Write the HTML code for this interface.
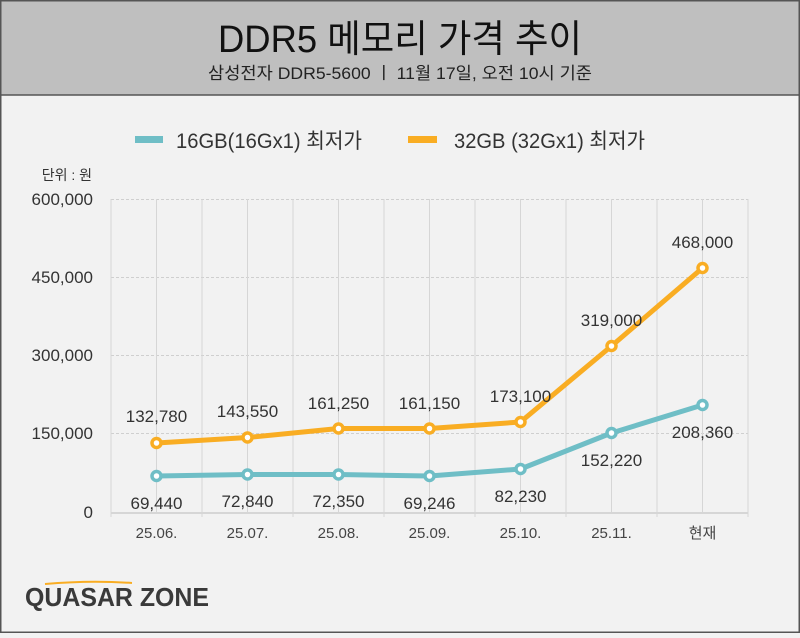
<!DOCTYPE html><html><head><meta charset="utf-8"><style>
body{margin:0;width:800px;height:633px;overflow:hidden;background:#f2f2f2;font-family:"Liberation Sans","Noto Sans CJK KR",sans-serif}
</style></head><body>
<svg width="800" height="633" xmlns="http://www.w3.org/2000/svg" font-family="Liberation Sans, Noto Sans CJK KR, sans-serif">
<rect x="0" y="0" width="800" height="633" fill="#f2f2f2"/>
<rect x="0" y="0" width="800" height="95" fill="#bfbfbf"/>
<line x1="0" y1="95" x2="800" y2="95" stroke="#555" stroke-width="1.5"/>
<rect x="0.75" y="0.75" width="798.5" height="631.5" fill="none" stroke="#555" stroke-width="1.5"/>
<text x="218" y="52" font-size="38" fill="#111" textLength="364" lengthAdjust="spacingAndGlyphs">DDR5 메모리 가격 추이</text>
<text x="208" y="79" font-size="17" fill="#222" textLength="384" lengthAdjust="spacingAndGlyphs">삼성전자 DDR5-5600 ㅣ 11월 17일, 오전 10시 기준</text>
<rect x="135" y="136" width="28" height="7" fill="#6fbec6"/>
<text x="176" y="148" font-size="21" fill="#333" textLength="186" lengthAdjust="spacingAndGlyphs">16GB(16Gx1) 최저가</text>
<rect x="408" y="136" width="29" height="7" fill="#f9ad23"/>
<text x="454" y="148" font-size="21" fill="#333" textLength="191" lengthAdjust="spacingAndGlyphs">32GB (32Gx1) 최저가</text>
<text x="92" y="180" text-anchor="end" font-size="14" fill="#333">단위 : 원</text>
<g stroke="#cfcfcf" stroke-dasharray="3,2" stroke-width="1">
<line x1="111" y1="199.5" x2="748" y2="199.5"/>
<line x1="111" y1="277.5" x2="748" y2="277.5"/>
<line x1="111" y1="355.5" x2="748" y2="355.5"/>
<line x1="111" y1="433.5" x2="748" y2="433.5"/>
</g>
<g stroke="#d6d6d6" stroke-width="1">
<line x1="111" y1="199" x2="111" y2="517"/><line x1="156.5" y1="199" x2="156.5" y2="512"/>
<line x1="202" y1="199" x2="202" y2="517"/><line x1="247.5" y1="199" x2="247.5" y2="512"/>
<line x1="293" y1="199" x2="293" y2="517"/><line x1="338.5" y1="199" x2="338.5" y2="512"/>
<line x1="384" y1="199" x2="384" y2="517"/><line x1="429.5" y1="199" x2="429.5" y2="512"/>
<line x1="475" y1="199" x2="475" y2="517"/><line x1="520.5" y1="199" x2="520.5" y2="512"/>
<line x1="566" y1="199" x2="566" y2="517"/><line x1="611.5" y1="199" x2="611.5" y2="512"/>
<line x1="657" y1="199" x2="657" y2="517"/><line x1="702.5" y1="199" x2="702.5" y2="512"/>
<line x1="748" y1="199" x2="748" y2="517"/>
<line x1="111" y1="513" x2="748" y2="513" stroke-width="2"/>
</g>
<g font-size="17" fill="#333" text-anchor="end">
<text x="93" y="205">600,000</text><text x="93" y="283">450,000</text><text x="93" y="361">300,000</text><text x="93" y="439">150,000</text><text x="93" y="518">0</text>
</g>
<g font-size="15" fill="#444" text-anchor="middle">
<text x="156.5" y="538">25.06.</text><text x="247.5" y="538">25.07.</text><text x="338.5" y="538">25.08.</text><text x="429.5" y="538">25.09.</text><text x="520.5" y="538">25.10.</text><text x="611.5" y="538">25.11.</text><text x="702.5" y="538">현재</text>
</g>
<polyline fill="none" stroke="#6fbec6" stroke-width="5" stroke-linejoin="round" points="156.5,476 247.5,474.5 338.5,474.5 429.5,476 520.5,469 611.5,433 702.5,405"/>
<polyline fill="none" stroke="#f9ad23" stroke-width="5" stroke-linejoin="round" points="156.5,443 247.5,437.5 338.5,428.5 429.5,428.5 520.5,422 611.5,346 702.5,268"/>
<g fill="#fff" stroke="#6fbec6" stroke-width="3.5">
<circle cx="156.5" cy="476" r="4.5"/><circle cx="247.5" cy="474.5" r="4.5"/><circle cx="338.5" cy="474.5" r="4.5"/><circle cx="429.5" cy="476" r="4.5"/><circle cx="520.5" cy="469" r="4.5"/><circle cx="611.5" cy="433" r="4.5"/><circle cx="702.5" cy="405" r="4.5"/>
</g>
<g fill="#fff" stroke="#f9ad23" stroke-width="3.5">
<circle cx="156.5" cy="443" r="4.5"/><circle cx="247.5" cy="437.5" r="4.5"/><circle cx="338.5" cy="428.5" r="4.5"/><circle cx="429.5" cy="428.5" r="4.5"/><circle cx="520.5" cy="422" r="4.5"/><circle cx="611.5" cy="346" r="4.5"/><circle cx="702.5" cy="268" r="4.5"/>
</g>
<g font-size="17" fill="#333" text-anchor="middle">
<text x="156.5" y="422">132,780</text><text x="247.5" y="417">143,550</text><text x="338.5" y="409">161,250</text><text x="429.5" y="409">161,150</text><text x="520.5" y="402">173,100</text><text x="611.5" y="326">319,000</text><text x="702.5" y="248">468,000</text>
<text x="156.5" y="509">69,440</text><text x="247.5" y="507">72,840</text><text x="338.5" y="507">72,350</text><text x="429.5" y="509">69,246</text><text x="520.5" y="502">82,230</text><text x="611.5" y="466">152,220</text><text x="702.5" y="438">208,360</text>
</g>
<text x="25" y="606" font-size="26" font-weight="bold" fill="#3a3a3a" textLength="184" lengthAdjust="spacingAndGlyphs">QUASAR ZONE</text>
<path d="M45 584 Q90 580 132 583" stroke="#f9ad23" stroke-width="2" fill="none"/>
</svg>
</body></html>
